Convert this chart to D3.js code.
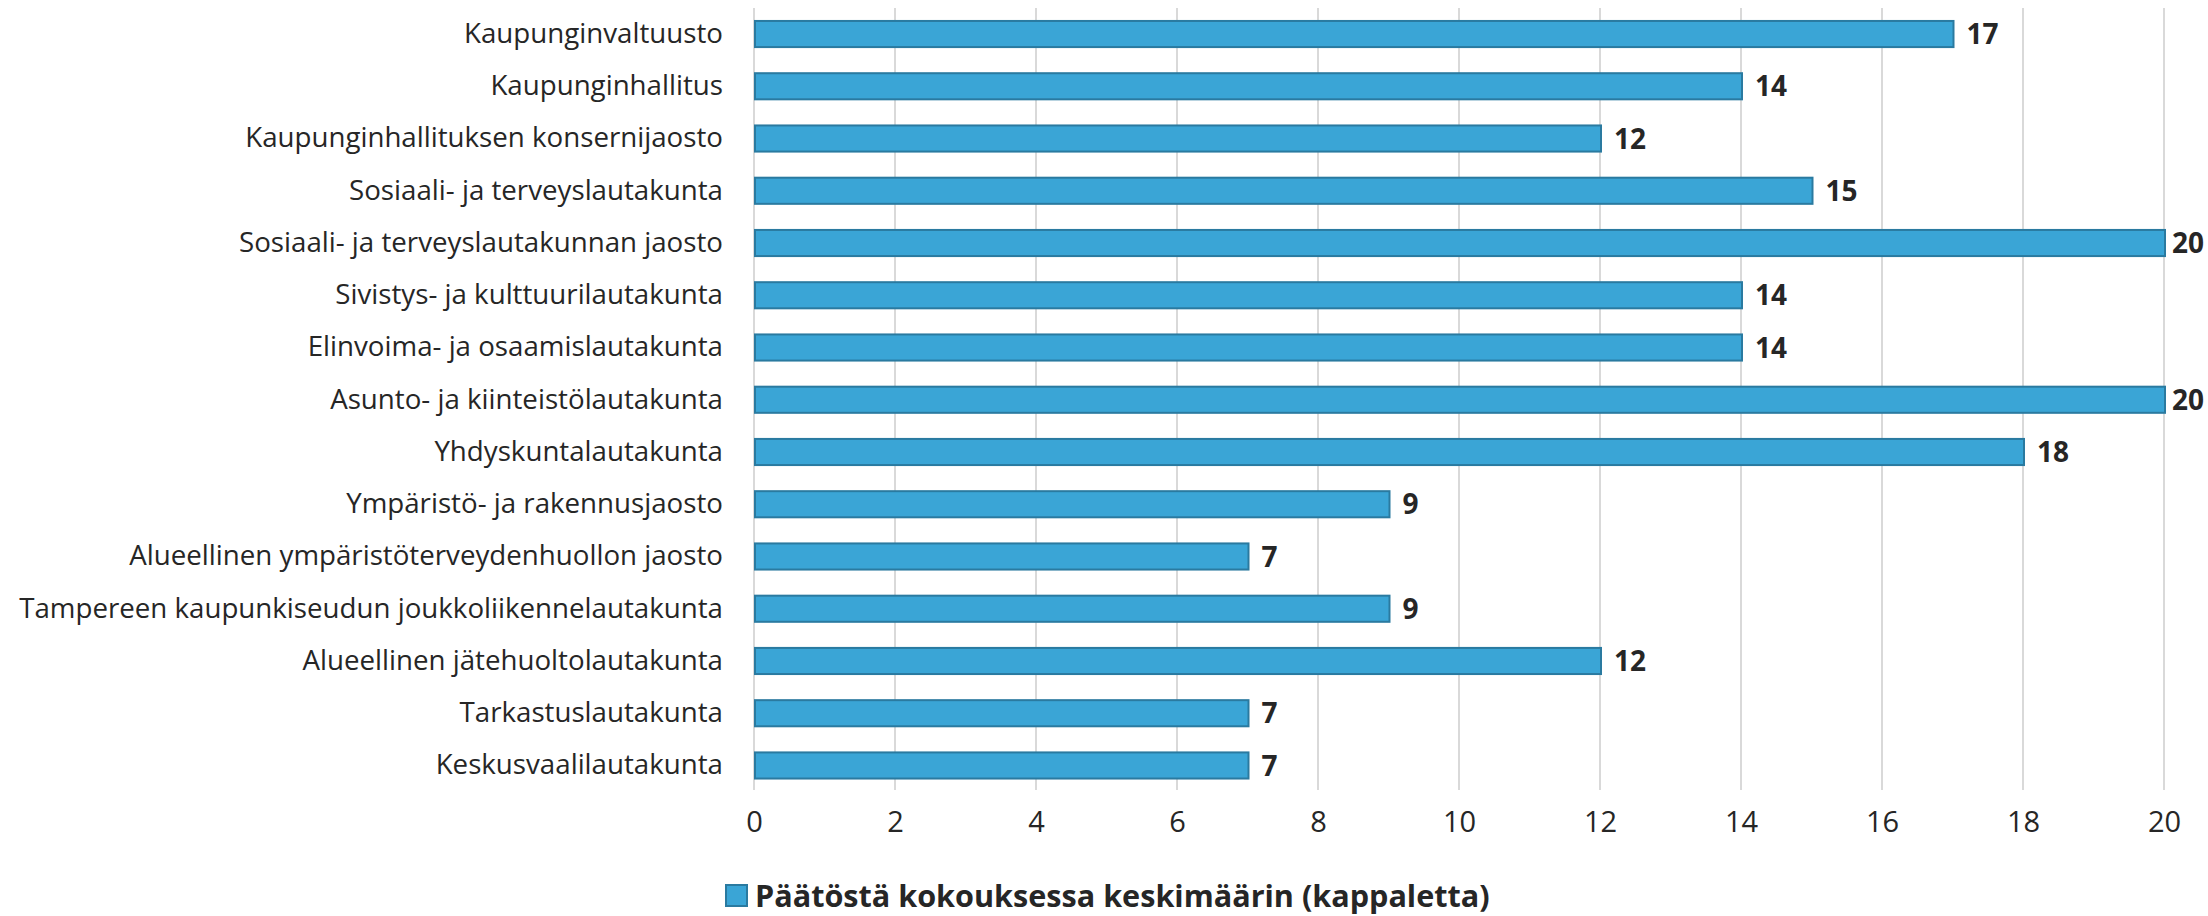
<!DOCTYPE html>
<html>
<head>
<meta charset="utf-8">
<script src="https://cdn.jsdelivr.net/npm/d3@7"></script>
<style>
  html, body { margin: 0; padding: 0; background: #ffffff; }
  svg { display: block; }
  text { font-family: "Open Sans", "Noto Sans", sans-serif; fill: #262626; }
</style>
</head>
<body>
<svg id="chart" width="2208" height="916"></svg>
<script>
const categories = [
  "Kaupunginvaltuusto",
  "Kaupunginhallitus",
  "Kaupunginhallituksen konsernijaosto",
  "Sosiaali- ja terveyslautakunta",
  "Sosiaali- ja terveyslautakunnan jaosto",
  "Sivistys- ja kulttuurilautakunta",
  "Elinvoima- ja osaamislautakunta",
  "Asunto- ja kiinteistölautakunta",
  "Yhdyskuntalautakunta",
  "Ympäristö- ja rakennusjaosto",
  "Alueellinen ympäristöterveydenhuollon jaosto",
  "Tampereen kaupunkiseudun joukkoliikennelautakunta",
  "Alueellinen jätehuoltolautakunta",
  "Tarkastuslautakunta",
  "Keskusvaalilautakunta"
];
const values = [17, 14, 12, 15, 20, 14, 14, 20, 18, 9, 7, 9, 12, 7, 7];
const xTicks = [0, 2, 4, 6, 8, 10, 12, 14, 16, 18, 20];
const seriesName = "Päätöstä kokouksessa keskimäärin (kappaletta)";

const W = 2208, H = 916;
const svg = d3.select("#chart");

const x = d3.scaleLinear().domain([0, 20]).range([754, 2164]);
const y = d3.scaleBand().domain(categories).range([7.9, 791.6])
  .paddingInner(0.5).paddingOuter(0.25);

const barFill = "#3aa5d6", barStroke = "#2a7aa0", gridColor = "#d9d9d9";

// gridlines
svg.append("g").selectAll("line").data(xTicks).join("line")
  .attr("x1", d => x(d)).attr("x2", d => x(d))
  .attr("y1", 8).attr("y2", 790)
  .attr("stroke", gridColor).attr("stroke-width", 2);

// x axis labels
const xAxis = d3.axisBottom(x).tickValues(xTicks).tickSize(0).tickPadding(0).tickFormat(d3.format("d"));
const gx = svg.append("g").attr("transform", "translate(0,811)").call(xAxis);
gx.select(".domain").remove();
gx.selectAll("text").attr("font-size", 29).attr("fill", "#262626")
  .attr("font-family", "Open Sans, sans-serif").attr("dy", "0.71em");

// bars
const data = categories.map((c, i) => ({ c, v: values[i] }));
svg.append("g").selectAll("rect").data(data).join("rect")
  .attr("x", x(0) + 1)
  .attr("y", d => y(d.c))
  .attr("width", d => x(d.v) - x(0))
  .attr("height", y.bandwidth())
  .attr("fill", barFill)
  .attr("stroke", barStroke)
  .attr("stroke-width", 2);

// category labels
const yAxis = d3.axisLeft(y).tickSize(0).tickPadding(0);
const gy = svg.append("g").attr("transform", "translate(723,0)").call(yAxis);
gy.select(".domain").remove();
gy.selectAll("text").attr("font-size", 26).attr("fill", "#262626")
  .attr("font-family", "Open Sans, sans-serif");
let maxW = 0;
gy.selectAll("text").each(function() { maxW = Math.max(maxW, this.getComputedTextLength()); });
const fs = 26 * 704 / maxW;
gy.selectAll("text").attr("font-size", fs);

// value labels (kept inside the picture when near the right edge)
const vl = svg.append("g").selectAll("text").data(data).join("text")
  .attr("y", d => y(d.c) + y.bandwidth() / 2)
  .attr("dy", "0.36em")
  .attr("font-size", 28)
  .attr("font-weight", "bold")
  .text(d => d.v);
vl.each(function(d) {
  const w = this.getComputedTextLength();
  const px = Math.min(x(d.v) + 14, W - 4 - w);
  d3.select(this).attr("x", px);
});

// legend
const lg = svg.append("g");
lg.append("rect").attr("x", 0).attr("y", 0).attr("width", 21).attr("height", 21)
  .attr("fill", barFill).attr("stroke", barStroke).attr("stroke-width", 2);
const lt = lg.append("text").attr("x", 29).attr("y", 10.5).attr("dy", "0.36em")
  .attr("font-size", 28).attr("font-weight", "bold").text(seriesName);
const tw = lt.node().getComputedTextLength();
lt.attr("font-size", 28 * 735 / tw);
const totalW = 29 + 735;
lg.attr("transform", `translate(${1108 - totalW / 2},885)`);
</script>
</body>
</html>
